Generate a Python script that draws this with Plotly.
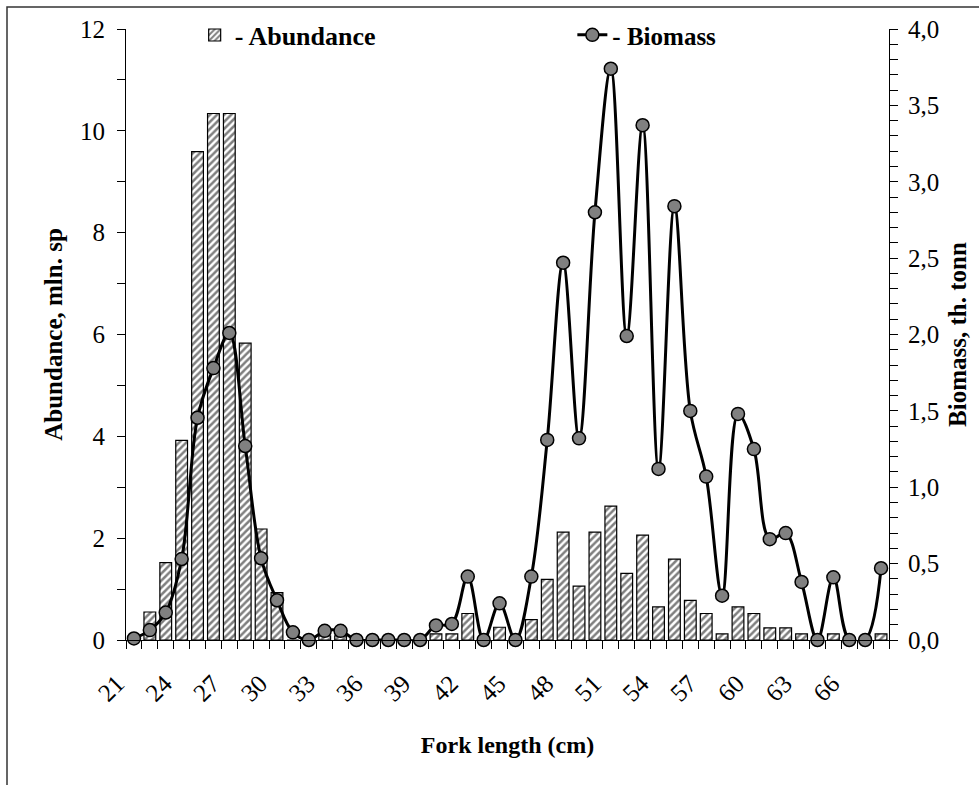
import plotly.graph_objects as go

# ---- data ----
fork_length = [21, 22, 23, 24, 25, 26, 27, 28, 29, 30,
               31, 32, 33, 34, 35, 36, 37, 38, 39, 40,
               41, 42, 43, 44, 45, 46, 47, 48, 49, 50,
               51, 52, 53, 54, 55, 56, 57, 58, 59, 60,
               61, 62, 63, 64, 65, 66, 67, 68]

abundance = [0.0, 0.55, 1.52, 3.92, 9.59, 10.34, 10.34, 5.83, 2.18, 0.93,
             0.0, 0.0, 0.08, 0.08, 0.0, 0.0, 0.0, 0.0, 0.0, 0.12,
             0.12, 0.52, 0.0, 0.25, 0.0, 0.40, 1.19, 2.12, 1.06, 2.12,
             2.63, 1.31, 2.06, 0.65, 1.59, 0.78, 0.52, 0.12, 0.65, 0.52,
             0.24, 0.24, 0.12, 0.0, 0.12, 0.0, 0.0, 0.12]

biomass = [0.01, 0.065, 0.18, 0.53, 1.455, 1.78, 2.01, 1.27, 0.535, 0.26,
           0.05, 0.0, 0.06, 0.06, 0.0, 0.0, 0.0, 0.0, 0.0, 0.095,
           0.105, 0.415, 0.0, 0.24, 0.0, 0.415, 1.31, 2.47, 1.32, 2.80,
           3.74, 1.99, 3.37, 1.12, 2.84, 1.50, 1.07, 0.29, 1.48, 1.25,
           0.66, 0.70, 0.38, 0.0, 0.41, 0.0, 0.0, 0.47]

label_lengths = [21, 24, 27, 30, 33, 36, 39, 42, 45, 48, 51, 54, 57, 60, 63, 66]

# category boundaries (ticks sit between classes)
boundaries = [c - 0.5 for c in fork_length] + [fork_length[-1] + 0.5]
boundary_text = [str(int(b + 0.5)) if int(b + 0.5) in label_lengths else "" for b in boundaries]
x_range = [boundaries[0], boundaries[-1]]

FONT = "Liberation Serif, Times New Roman, serif"

fig = go.Figure()
fig.add_trace(go.Bar(
    x=fork_length, y=abundance, name="<b>- Abundance</b>",
    width=0.74, showlegend=True,
    marker=dict(color="white", line=dict(color="black", width=1.2),
                pattern=dict(shape="/", fgcolor="black", bgcolor="white",
                             size=5, solidity=0.5)),
    legend="legend",
))
fig.add_trace(go.Scatter(
    x=fork_length, y=biomass, yaxis="y2", name="<b>- Biomass</b>",
    mode="lines+markers", showlegend=True,
    line=dict(color="black", width=3, shape="spline", smoothing=1.0),
    marker=dict(size=13, color="#808080", line=dict(color="black", width=1.5)),
    cliponaxis=False,
    legend="legend2",
))

tick_common = dict(tickcolor="black", tickwidth=1, ticklen=8)

fig.update_layout(
    width=979, height=785,
    margin=dict(l=126, r=90, t=29, b=145),
    paper_bgcolor="white", plot_bgcolor="white",
    font=dict(family=FONT, size=25, color="black"),
    separators=",.",
    showlegend=True,
    bargap=0.26,
    xaxis=dict(
        range=x_range, tickmode="array", tickvals=boundaries, ticktext=boundary_text,
        tickangle=-45, ticks="outside", **tick_common,
        ticklabelstandoff=10, ticklabelshift=-9,
        showline=True, linecolor="black", linewidth=1,
        showgrid=False, zeroline=False,
        title=dict(text="<b>Fork length (cm)</b>", font=dict(size=24), standoff=30),
    ),
    xaxis2=dict(
        overlaying="x", anchor="y", side="bottom", range=x_range,
        tickmode="array", tickvals=boundaries, ticks="inside", **tick_common,
        showticklabels=False, showline=False, showgrid=False, zeroline=False,
    ),
    yaxis=dict(
        range=[0, 12], tickmode="linear", tick0=0, dtick=2,
        ticks="outside", **tick_common, ticklabelstandoff=7,
        minor=dict(dtick=1, ticks="outside", ticklen=8, tickcolor="black"),
        showline=True, linecolor="black", linewidth=1,
        showgrid=False, zeroline=False,
        title=dict(text="<b>Abundance, mln. sp</b>", font=dict(size=25), standoff=10),
    ),
    yaxis2=dict(
        overlaying="y", side="right", anchor="x",
        range=[0, 4], tickmode="linear", tick0=0, dtick=0.5, tickformat=".1f",
        ticks="outside", **tick_common, ticklabelstandoff=5,
        minor=dict(dtick=0.1, ticks="outside", ticklen=8, tickcolor="black"),
        showline=True, linecolor="black", linewidth=1,
        showgrid=False, zeroline=False,
        title=dict(text="<b>Biomass, th. tonn</b>", font=dict(size=25), standoff=10),
    ),
    yaxis3=dict(
        overlaying="y", side="left", anchor="x", range=[0, 12],
        tickmode="linear", tick0=0, dtick=2, ticks="inside", **tick_common,
        showticklabels=False, showline=False, showgrid=False, zeroline=False,
    ),
    yaxis4=dict(
        overlaying="y", side="right", anchor="x", range=[0, 4],
        tickmode="linear", tick0=0, dtick=0.5, ticks="inside", **tick_common,
        showticklabels=False, showline=False, showgrid=False, zeroline=False,
    ),
    legend=dict(x=0.09, y=0.99, xanchor="left", yanchor="middle",
                orientation="h", bgcolor="rgba(0,0,0,0)", visible=True,
                font=dict(family=FONT, size=26)),
    legend2=dict(x=0.585, y=0.99, xanchor="left", yanchor="middle",
                 orientation="h", bgcolor="rgba(0,0,0,0)", visible=True,
                 font=dict(family=FONT, size=25)),
    shapes=[dict(type="rect", xref="paper", yref="paper",
                 x0=(7 - 126) / 763, x1=1.5, y0=-0.5, y1=(640 - 7) / 611,
                 line=dict(color="#333333", width=1.5),
                 fillcolor="rgba(0,0,0,0)", layer="below")],
)

fig.write_html("out.html")
